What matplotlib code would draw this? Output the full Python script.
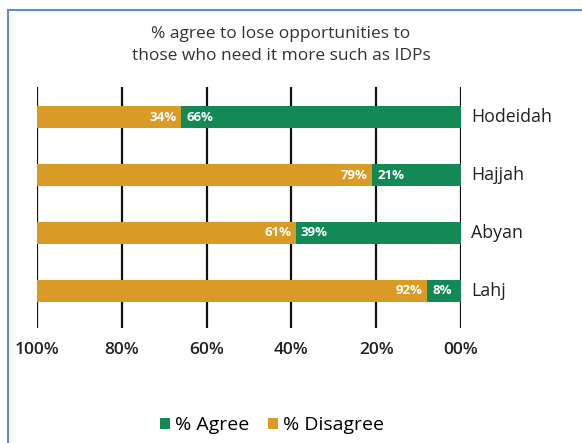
import matplotlib
matplotlib.use("Agg")
import matplotlib.pyplot as plt
from matplotlib.patches import Rectangle

# data
regions = ["Hodeidah", "Hajjah", "Abyan", "Lahj"]
agree = [66, 21, 39, 8]
disagree = [34, 79, 61, 92]
tick_vals = [100, 80, 60, 40, 20, 0]
tick_labels = ["100%", "80%", "60%", "40%", "20%", "00%"]
title = "% agree to lose opportunities to\nthose who need it more such as IDPs"

green = "#138a55"
gold = "#d99a26"

plt.rcParams['font.family'] = ['Open Sans', 'DejaVu Sans']

fig = plt.figure(figsize=(5.82, 4.43), dpi=100)
# axes box in pixels: x 37..461, y 87..328
ax = fig.add_axes([37/582, 1 - 328/443, 424/582, 241/443])

ys = list(range(len(regions)))
bh = 0.38
ax.barh(ys, agree, height=bh, color=green, zorder=2, label="% Agree")
ax.barh(ys, disagree, left=agree, height=bh, color=gold, zorder=2, label="% Disagree")

for y, a, d in zip(ys, agree, disagree):
    ax.text(a + 1.0, y, "%d%%" % d, color="white", fontsize=9.5, fontweight="bold",
            ha="right", va="center", zorder=3)
    ax.text(a - 1.2, y, "%d%%" % a, color="white", fontsize=9.5, fontweight="bold",
            ha="left", va="center", zorder=3)
    ax.text(-2.4, y, regions[y], fontsize=12.8, ha="left", va="center",
            color="#222222")

ax.set_xlim(100, 0)
ax.set_ylim(3.64, -0.52)
ax.set_xticks(tick_vals)
ax.set_xticklabels(tick_labels, fontsize=12.5, fontweight="semibold", color="#222222")
ax.set_yticks([])
ax.tick_params(axis="x", length=0, pad=10)
for s in ax.spines.values():
    s.set_visible(False)
for v in tick_vals:
    ax.axvline(v, color="#111111", lw=1.6, zorder=1)

fig.text(281/582, 1 - 45/443, title, ha="center", va="center", fontsize=12.5,
         color="#333333", linespacing=1.45)

leg = fig.legend(loc="center", bbox_to_anchor=(272/582, 1 - 425/443), ncol=2,
                 frameon=False, fontsize=14, handlelength=0.5, handleheight=0.5,
                 handletextpad=0.25, columnspacing=1.0)

# outer border
fig.patches.append(Rectangle((8/582, -0.05), 1.0, 1 - 10/443 + 0.05,
                             transform=fig.transFigure, fill=False,
                             edgecolor="#5b8bd0", lw=1.5))

fig.savefig("out.png", dpi=100)
